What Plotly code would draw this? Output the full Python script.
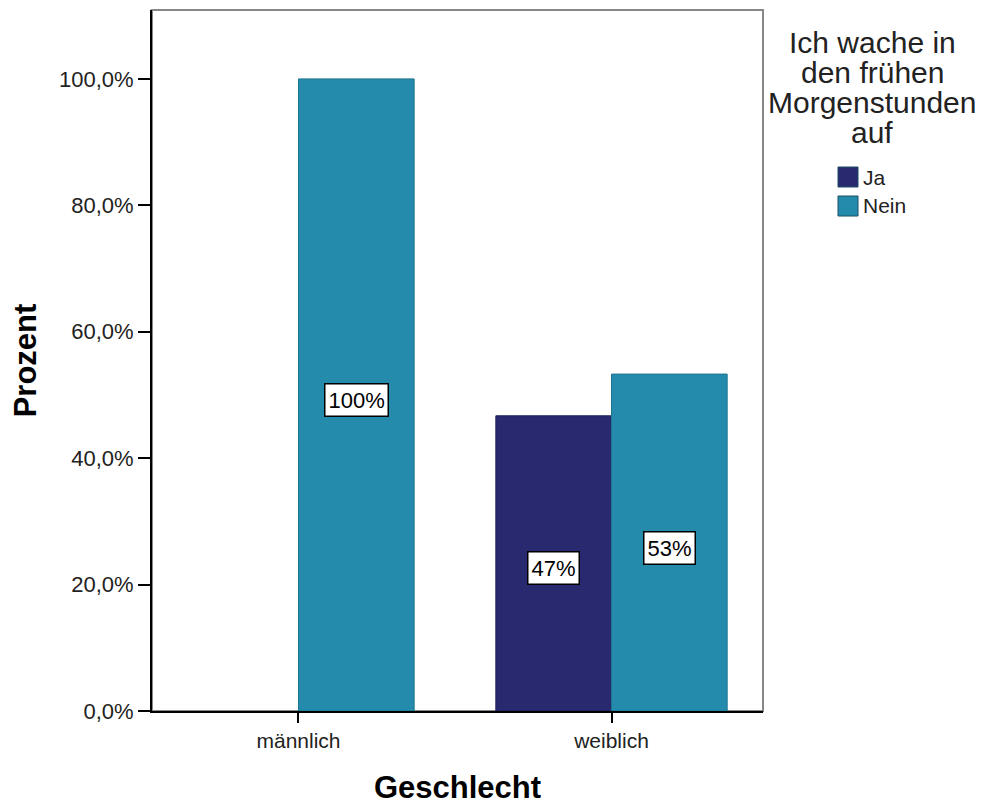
import plotly.graph_objects as go

categories = ["männlich", "weiblich"]
ja_values = [None, 46.7]
nein_values = [100.0, 53.3]
y_ticks = [0, 20, 40, 60, 80, 100]
y_tick_labels = ["0,0%", "20,0%", "40,0%", "60,0%", "80,0%", "100,0%"]
series_names = ["Ja", "Nein"]
legend_title_lines = ["Ich wache in", "den frühen", "Morgenstunden", "auf"]

col_ja = "#29296F"
col_nein = "#258BAC"
FONT = "Liberation Sans, Arial, sans-serif"

# page body has an 8px margin; compensate
W, H = 975, 797
PL, PT, PR, PB = 144, 2, 755, 703   # plot area edges in figure pixels
pw, ph = PR - PL, PB - PT


def px(xpix):
    return (xpix - 8 - PL) / pw


def py(ypix):
    return (PB - (ypix - 8)) / ph


fig = go.Figure()
fig.add_trace(go.Bar(x=categories, y=ja_values, name=series_names[0], showlegend=False,
                     marker=dict(color=col_ja, line=dict(color="#1f2060", width=1))))
fig.add_trace(go.Bar(x=categories, y=nein_values, name=series_names[1], showlegend=False,
                     marker=dict(color=col_nein, line=dict(color="#1d7690", width=1))))

bargap = 0.261
half = (1 - bargap) / 4
annotations = []
for series, off in ((ja_values, -half), (nein_values, half)):
    for i, v in enumerate(series):
        if v is None:
            continue
        annotations.append(dict(x=i + off, y=v / 2, xref="x", yref="y", yshift=-5,
                                text=f"{round(v)}%", showarrow=False,
                                font=dict(family=FONT, size=22, color="black"),
                                bgcolor="white", bordercolor="black",
                                borderwidth=1.5, borderpad=3))

# legend title (one annotation per line to match tight line spacing)
for k, line in enumerate(legend_title_lines):
    annotations.append(dict(x=px(872), y=py(42 + 30.3 * k), xref="paper", yref="paper",
                            xanchor="center", yanchor="middle", text=line,
                            showarrow=False, font=dict(family=FONT, size=30, color="#222")))

shapes = [dict(type="rect", xref="paper", yref="paper", x0=0, x1=1, y0=0, y1=1,
               line=dict(color="#888888", width=2), layer="below")]
# legend entries
for k, (name, col) in enumerate(zip(series_names, [col_ja, col_nein])):
    top = 167 + 29 * k
    shapes.append(dict(type="rect", xref="paper", yref="paper",
                       x0=px(838), x1=px(858), y0=py(top + 20), y1=py(top),
                       fillcolor=col, line=dict(color="#1a4f66", width=1)))
    annotations.append(dict(x=px(861), y=py(top + 10), xref="paper", yref="paper",
                            xanchor="left", yanchor="middle", text=name, showarrow=False,
                            font=dict(family=FONT, size=21, color="#222")))

fig.update_layout(
    width=W, height=H,
    margin=dict(l=PL, r=W - PR, t=PT, b=H - PB),
    plot_bgcolor="white", paper_bgcolor="white",
    barmode="group", bargap=bargap, bargroupgap=0,
    font=dict(family=FONT, color="#222"),
    showlegend=False,
    annotations=annotations,
    shapes=shapes,
)
fig.update_xaxes(type="category", range=[-0.468, 1.484],
                 showline=True, linecolor="black", linewidth=2,
                 ticks="outside", ticklen=10, tickcolor="black", tickwidth=2,
                 tickfont=dict(family=FONT, size=21, color="#222"),
                 title=dict(text="<b>Geschlecht</b>", font=dict(family=FONT, size=31, color="black"),
                            standoff=27),
                 showgrid=False)
fig.update_yaxes(range=[0, 110.9], tickvals=y_ticks, ticktext=y_tick_labels,
                 showline=True, linecolor="black", linewidth=2,
                 ticks="outside", ticklen=12, tickcolor="black", tickwidth=2,
                 tickfont=dict(family=FONT, size=22, color="#222"),
                 title=dict(text="<b>Prozent</b>", font=dict(family=FONT, size=31, color="black"),
                            standoff=18),
                 showgrid=False, zeroline=False)

fig.write_html("out.html")
